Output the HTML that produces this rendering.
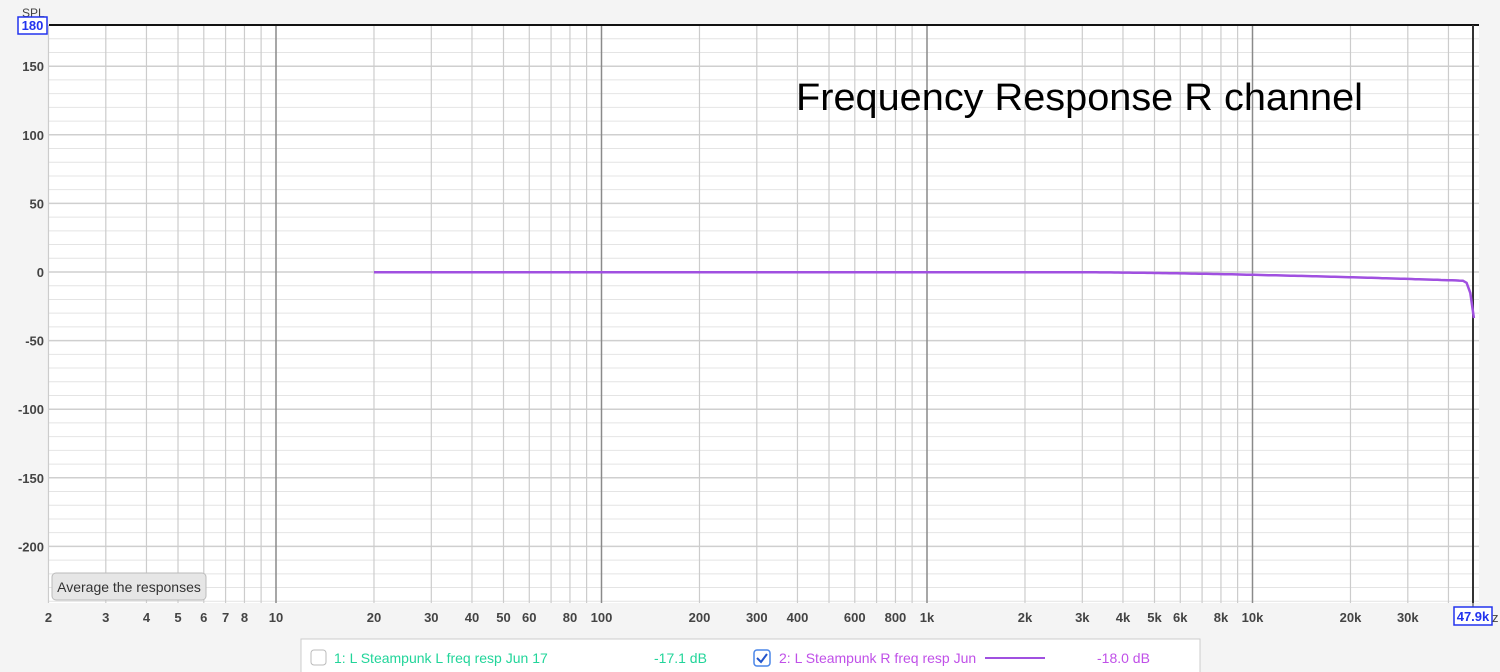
<!DOCTYPE html>
<html><head><meta charset="utf-8"><style>
html,body{margin:0;padding:0;background:#f4f4f4;width:1500px;height:672px;overflow:hidden;font-family:"Liberation Sans",sans-serif;}
svg{position:absolute;left:0;top:0;}
</style></head><body>
<svg id="s" width="1500" height="672" xmlns="http://www.w3.org/2000/svg"></svg>
<script>
const s=document.getElementById('s');
let h='';
const X=f=>276+325.5*Math.log10(f/10);
const Y=v=>272-v*1.372;
const L=49,R=1479,T=25,B=603;
h+=`<rect x="${L}" y="${T}" width="${R-L}" height="${B-T}" fill="#fff"/>`;
for(let v=-240;v<=180;v+=10){const y=Y(v);if(y>B||y<T)continue;
 h+=`<line x1="${L}" x2="${R}" y1="${y}" y2="${y}" stroke="${v%50==0?'#cfcfcf':'#e4e4e4'}" stroke-width="${v%50==0?1.5:1}"/>`;
 if(v%50==0&&v<180)h+=`<text x="44" y="${y+5}" text-anchor="end" font-size="13" font-weight="bold" fill="#444">${v}</text>`;}
const labs={2:'2',3:'3',4:'4',5:'5',6:'6',7:'7',8:'8',10:'10',20:'20',30:'30',40:'40',50:'50',60:'60',80:'80',100:'100',200:'200',300:'300',400:'400',600:'600',800:'800',1000:'1k',2000:'2k',3000:'3k',4000:'4k',5000:'5k',6000:'6k',8000:'8k',10000:'10k',20000:'20k',30000:'30k'};
for(let d=1;d<=10000;d*=10)for(let m=1;m<10;m++){const f=d*m;if(f<2||f>47900)continue;const x=X(f);
 const major=(m==1);
 h+=`<line x1="${x}" x2="${x}" y1="${T}" y2="${B}" stroke="${major?'#8a8a8a':'#cccccc'}" stroke-width="${major?1.5:1.2}"/>`;
 if(labs[f])h+=`<text x="${x}" y="622" text-anchor="middle" font-size="13" font-weight="bold" fill="#444">${labs[f]}</text>`;}
h+=`<line x1="${L}" x2="${R}" y1="${T}" y2="${T}" stroke="#111" stroke-width="2"/>`;
h+=`<line x1="1473" x2="1473" y1="${T}" y2="${B}" stroke="#333" stroke-width="2"/>`;
h+=`<line x1="1473" x2="1473" y1="${B}" y2="612" stroke="#333" stroke-width="1"/>`;
let pts=[];
for(let i=0;i<=300;i++){const f=20*Math.pow(47900/20,i/300);let v=-0.2;
 if(f>3000)v-=0.8*Math.pow(Math.log2(f/3000),1.5);
 if(f>44000)v-=Math.pow((f-44000)/3900,3)*27;
 pts.push(X(f).toFixed(1)+','+Y(v).toFixed(1));}
h+=`<polyline points="${pts.join(' ')}" fill="none" stroke="#a050e0" stroke-width="2.5"/>`;
h+=`<text x="796" y="110" font-size="38" textLength="567" lengthAdjust="spacingAndGlyphs" fill="#000">Frequency Response R channel</text>`;
h+=`<text x="22" y="17" font-size="12" fill="#444">SPL</text>`;
h+=`<rect x="18" y="17" width="29" height="17" fill="#fff" stroke="#2233ee" stroke-width="1.5"/><text x="32.5" y="30" text-anchor="middle" font-size="13" font-weight="bold" fill="#2233ee">180</text>`;
h+=`<rect x="1454" y="607" width="38" height="18" fill="#fff" stroke="#2233ee" stroke-width="1.5"/><text x="1473" y="621" text-anchor="middle" font-size="13" font-weight="bold" fill="#2233ee">47.9k</text><text x="1492" y="622" font-size="13" fill="#444">z</text>`;
h+=`<rect x="52" y="573" width="154" height="27" rx="4" fill="#e6e6e6" stroke="#bbb"/><text x="129" y="592" text-anchor="middle" font-size="14" fill="#333">Average the responses</text>`;
h+=`<rect x="301" y="639" width="899" height="40" fill="#fff" stroke="#ccc"/>`;
h+=`<rect x="311" y="650" width="15" height="15" rx="3" fill="#fff" stroke="#bbb"/>`;
h+=`<text x="334" y="663" font-size="14" fill="#22d59a">1: L Steampunk L freq resp Jun 17</text><text x="654" y="663" font-size="14" fill="#22d59a">-17.1 dB</text>`;
h+=`<rect x="754" y="650" width="16" height="16" rx="3" fill="#fff" stroke="#4a86e8" stroke-width="1.5"/><path d="M757 658 l4 4 l6 -8" fill="none" stroke="#2255cc" stroke-width="2"/>`;
h+=`<text x="779" y="663" font-size="14" fill="#c050e8">2: L Steampunk R freq resp Jun</text><line x1="985" x2="1045" y1="658" y2="658" stroke="#a050e0" stroke-width="2"/><text x="1097" y="663" font-size="14" fill="#c050e8">-18.0 dB</text>`;
s.innerHTML=h;
</script>
</body></html>
